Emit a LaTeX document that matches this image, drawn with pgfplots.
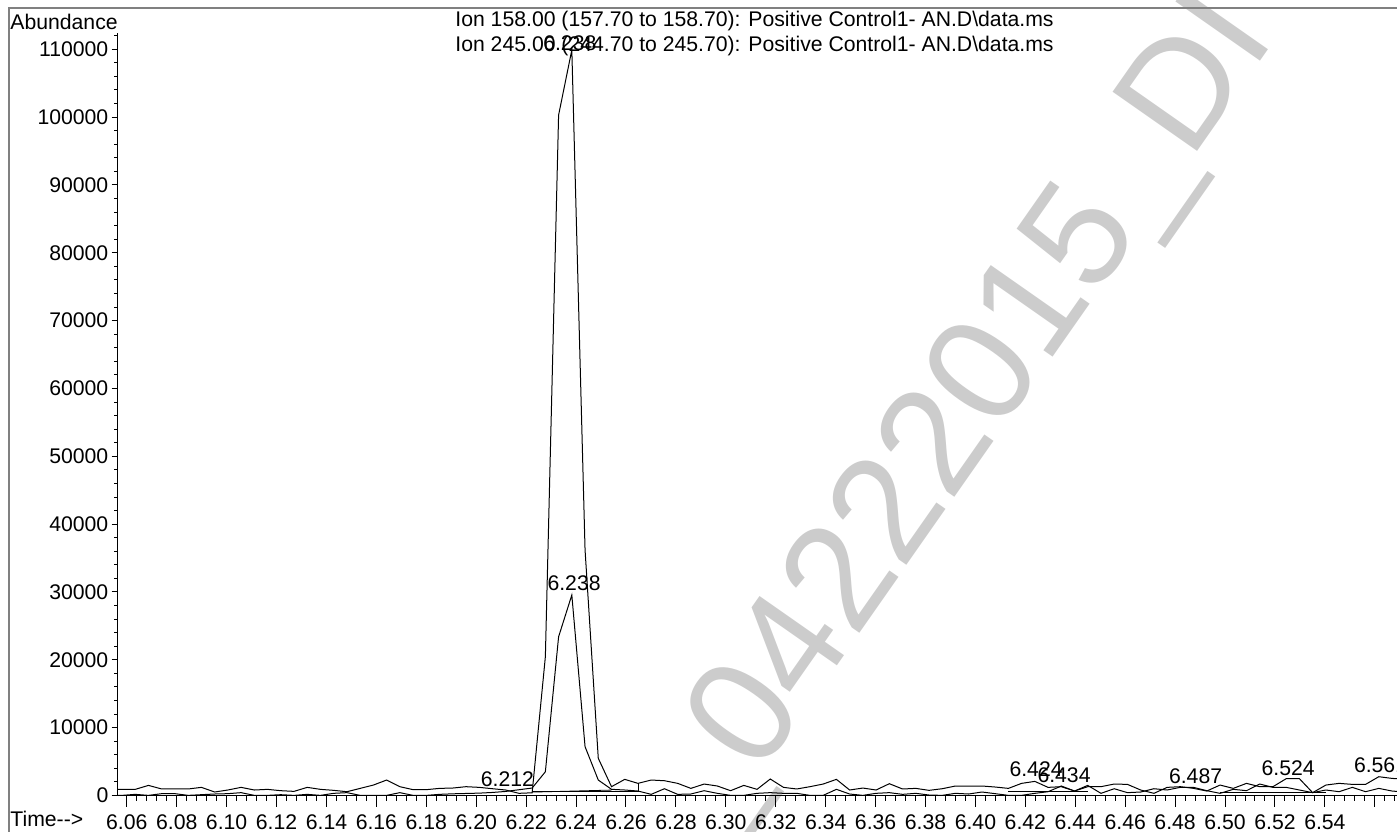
\documentclass[border=0pt]{standalone}
\usepackage{pgfplots}
\pgfplotsset{compat=1.18}
\usepackage{fontspec}
\setmainfont{Liberation Sans}
\pgfplotstableread{
t v
6.0528 906
6.0581 906
6.0634 906
6.0687 1490
6.0740 960
6.0793 960
6.0846 960
6.0899 1200
6.0952 515
6.1005 810
6.1058 1200
6.1111 810
6.1164 906
6.1217 710
6.1270 610
6.1323 1200
6.1376 906
6.1429 760
6.1482 560
6.1535 1050
6.1588 1540
6.1641 2280
6.1694 1300
6.1747 860
6.1800 860
6.1853 1050
6.1906 1100
6.1959 1300
6.2012 1200
6.2065 1000
6.2118 810
6.2171 320
6.2224 400
6.2277 20460
6.2330 100300
6.2383 109900
6.2436 36200
6.2489 5480
6.2542 1300
6.2595 2380
6.2648 1790
6.2701 2280
6.2754 2180
6.2807 1790
6.2860 1050
6.2913 1690
6.2966 1400
6.3019 710
6.3072 1490
6.3125 910
6.3178 2430
6.3231 1200
6.3284 960
6.3337 1300
6.3390 1690
6.3443 2380
6.3496 810
6.3549 1100
6.3602 810
6.3655 1740
6.3708 960
6.3761 1050
6.3814 760
6.3867 1000
6.3920 1400
6.3973 1400
6.4026 1400
6.4079 1250
6.4132 1050
6.4185 1790
6.4238 2080
6.4291 1200
6.4344 1300
6.4397 660
6.4450 1300
6.4503 1300
6.4556 1690
6.4609 1640
6.4662 810
6.4715 320
6.4768 1200
6.4821 1300
6.4874 1050
6.4927 660
6.4980 1540
6.5033 1050
6.5086 1790
6.5139 1300
6.5192 1300
6.5245 2480
6.5298 2480
6.5351 420
6.5404 1540
6.5457 1790
6.5510 1640
6.5563 1640
6.5616 2770
6.5669 2520
6.5722 2400
}\ionA
\pgfplotstableread{
t v
6.0528 20
6.0581 20
6.0634 170
6.0687 20
6.0740 270
6.0793 270
6.0846 20
6.0899 120
6.0952 220
6.1005 270
6.1058 420
6.1111 20
6.1164 20
6.1217 120
6.1270 20
6.1323 170
6.1376 20
6.1429 320
6.1482 420
6.1535 20
6.1588 20
6.1641 20
6.1694 420
6.1747 20
6.1800 20
6.1853 170
6.1906 250
6.1959 300
6.2012 350
6.2065 450
6.2118 600
6.2171 850
6.2224 1100
6.2277 3500
6.2330 23400
6.2383 29555
6.2436 7200
6.2489 2280
6.2542 910
6.2595 810
6.2648 660
6.2701 170
6.2754 1000
6.2807 170
6.2860 220
6.2913 710
6.2966 320
6.3019 20
6.3072 20
6.3125 320
6.3178 420
6.3231 320
6.3284 320
6.3337 20
6.3390 20
6.3443 910
6.3496 220
6.3549 20
6.3602 320
6.3655 420
6.3708 170
6.3761 320
6.3814 70
6.3867 20
6.3920 320
6.3973 220
6.4026 515
6.4079 270
6.4132 20
6.4185 20
6.4238 320
6.4291 560
6.4344 1400
6.4397 660
6.4450 1490
6.4503 320
6.4556 1000
6.4609 420
6.4662 515
6.4715 1000
6.4768 810
6.4821 1200
6.4874 1200
6.4927 710
6.4980 320
6.5033 910
6.5086 710
6.5139 1690
6.5192 1200
6.5245 1200
6.5298 810
6.5351 420
6.5404 810
6.5457 560
6.5510 1200
6.5563 560
6.5616 1050
6.5669 660
6.5722 500
}\ionB
\begin{document}
\begin{tikzpicture}[font=\fontsize{10.6}{12}\selectfont]
\path[use as bounding box] (0,0) rectangle (698.5pt,415.5pt);
% watermark
\node[anchor=base west, rotate=55, inner sep=0pt, text=black!20,
      font=\fontsize{75}{80}\selectfont] at (355.7pt,-7pt) {\_04222015\_DI};
% outer frame
\draw[black!50, line width=0.6pt] (4.5pt,-2pt) -- (4.5pt,411.5pt) -- (700pt,411.5pt);
% x axis and data
\begin{axis}[
  at={(58.65pt,17.75pt)}, anchor=south west,
  scale only axis, width=639.85pt, height=381.25pt,
  xmin=6.0562, xmax=6.5689, ymin=0, ymax=112400,
  axis x line=bottom, axis y line=none,
  axis line style={-, line width=0.5pt},
  tick align=outside,
  major tick length=5.5pt, minor tick length=2.7pt,
  tick style={black, line width=0.5pt},
  scaled x ticks=false, scaled y ticks=false,
  xtick={6.06,6.08,6.10,6.12,6.14,6.16,6.18,6.20,6.22,6.24,6.26,6.28,6.30,6.32,6.34,6.36,6.38,6.40,6.42,6.44,6.46,6.48,6.50,6.52,6.54,6.56},
  xticklabels={6.06,6.08,6.10,6.12,6.14,6.16,6.18,6.20,6.22,6.24,6.26,6.28,6.30,6.32,6.34,6.36,6.38,6.40,6.42,6.44,6.46,6.48,6.50,6.52,6.54,{}},
  minor xtick={6.056,6.060,...,6.569},
  xticklabel style={anchor=base, inner sep=0pt, yshift=-11.25pt, font=\fontsize{10.6}{12}\selectfont},
  /pgf/number format/assume math mode=true,
  clip=true,
]
\addplot[black, line width=0.5pt] table[x=t, y=v] {\ionA};
\addplot[black, line width=0.5pt] table[x=t, y=v] {\ionB};
% integration baselines
\addplot[black, line width=0.4pt] coordinates {(6.2224,660) (6.2648,660) (6.2648,1790)};
\addplot[black, line width=0.4pt] coordinates {(6.2224,500) (6.2542,800)};
\addplot[black, line width=0.4pt] coordinates {(6.4132,660) (6.4450,660)};
\addplot[black, line width=0.4pt] coordinates {(6.4980,450) (6.5404,450)};
% peak labels
\node[anchor=base, inner sep=0pt] at (axis cs:6.2375,109750) {6.238};
\node[anchor=base, inner sep=0pt] at (axis cs:6.2392,30290) {6.238};
\node[anchor=base, inner sep=0pt] at (axis cs:6.2125,1300) {6.212};
\node[anchor=base, inner sep=0pt] at (axis cs:6.4243,2730) {6.424};
\node[anchor=base, inner sep=0pt] at (axis cs:6.4355,1990) {6.434};
\node[anchor=base, inner sep=0pt] at (axis cs:6.4882,1840) {6.487};
\node[anchor=base, inner sep=0pt] at (axis cs:6.5253,3020) {6.524};
\node[anchor=base, inner sep=0pt] at (axis cs:6.5623,3320) {6.561};
\end{axis}
% y axis
\begin{axis}[
  at={(58.65pt,17.75pt)}, anchor=south west,
  scale only axis, width=639.85pt, height=381.25pt,
  xmin=6.0562, xmax=6.5689, ymin=0, ymax=112400,
  axis x line=none, axis y line=left,
  axis line style={-, line width=0.5pt},
  tick align=outside,
  major tick length=2.8pt, minor tick length=1.4pt,
  tick style={black, line width=0.5pt},
  scaled x ticks=false, scaled y ticks=false,
  ytick={0,10000,20000,30000,40000,50000,60000,70000,80000,90000,100000,110000},
  yticklabels={0,10000,20000,30000,40000,50000,60000,70000,80000,90000,100000,110000},
  minor ytick={0,2000,...,112000},
  yticklabel style={anchor=east, inner sep=0pt, xshift=-1.5pt, font=\fontsize{10.6}{12}\selectfont},
  /pgf/number format/assume math mode=true,
]
\end{axis}
% texts
\node[anchor=base west, inner sep=0pt] at (5pt,400.9pt) {Abundance};
\node[anchor=base west, inner sep=0pt] at (227.5pt,402pt) {Ion 158.00 (157.70 to 158.70): Positive Control1- AN.D\textbackslash data.ms};
\node[anchor=base west, inner sep=0pt] at (227.5pt,389.5pt) {Ion 245.00 (244.70 to 245.70): Positive Control1- AN.D\textbackslash data.ms};
\node[anchor=base west, inner sep=0pt] at (5pt,2.5pt) {Time-{}-{}>};
\end{tikzpicture}
\end{document}
